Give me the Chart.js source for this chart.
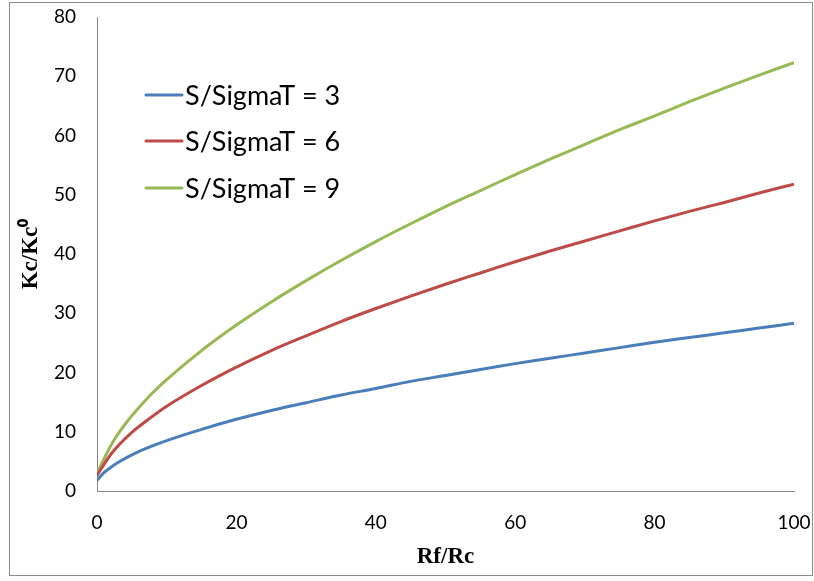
<!DOCTYPE html>
<html>
<head>
<meta charset="utf-8">
<script src="https://cdn.jsdelivr.net/npm/chart.js@4/dist/chart.umd.min.js"></script>
<style>
  html, body { margin: 0; padding: 0; background: #ffffff; }
  #wrap { width: 814px; height: 581px; position: relative; }
</style>
</head>
<body>
<div id="wrap"><canvas id="c" width="814" height="581"></canvas></div>
<script>
// Rf/Rc sample positions
const rfRc = [0, 1, 2, 3, 5, 7.5, 10, 15, 20, 25, 30, 35, 40, 45, 50, 55, 60, 65, 70, 75, 80, 85, 90, 95, 100];

// Kc/Kc0 for each S/SigmaT
const kcS3 = [1.8, 3.1, 4.0, 4.8, 6.1, 7.4, 8.5, 10.4, 12.1, 13.6, 14.9, 16.2, 17.3, 18.5, 19.5, 20.5, 21.5, 22.4, 23.3, 24.2, 25.1, 25.9, 26.7, 27.5, 28.3];
const kcS6 = [2.6, 4.5, 6.2, 7.6, 9.9, 12.2, 14.3, 17.8, 20.9, 23.7, 26.2, 28.6, 30.8, 32.9, 34.9, 36.8, 38.7, 40.5, 42.2, 43.9, 45.6, 47.2, 48.7, 50.3, 51.8];
const kcS9 = [2.9, 5.4, 7.7, 9.6, 12.7, 16.0, 18.8, 23.7, 28.0, 31.9, 35.5, 38.9, 42.1, 45.1, 48.0, 50.7, 53.4, 56.0, 58.5, 61.0, 63.3, 65.7, 68.0, 70.2, 72.3];

const seriesLabels = ['S/SigmaT = 3', 'S/SigmaT = 6', 'S/SigmaT = 9'];
const seriesColors = ['#4A7EBB', '#BE4B48', '#98B954'];

const xTicks = [0, 20, 40, 60, 80, 100];
const yTicks = [0, 10, 20, 30, 40, 50, 60, 70, 80];

const toPoints = ys => rfRc.map((x, i) => ({ x: x, y: ys[i] }));

// legend drawn inside the plot, upper left
const innerLegend = {
  id: 'innerLegend',
  afterDatasetsDraw(chart) {
    const ctx = chart.ctx;
    const rows = [95, 141, 188];
    ctx.save();
    chart.data.datasets.forEach((ds, i) => {
      const y = rows[i];
      ctx.strokeStyle = ds.borderColor;
      ctx.lineWidth = 3;
      ctx.lineCap = 'round';
      ctx.beginPath();
      ctx.moveTo(146, y);
      ctx.lineTo(182, y);
      ctx.stroke();
      ctx.fillStyle = '#000';
      ctx.font = '27px Lato, "Open Sans", sans-serif';
      ctx.textBaseline = 'middle';
      ctx.textAlign = 'left';
      ctx.fillText(ds.label, 185, y + 1);
    });
    ctx.restore();
  }
};

// thin frame around the whole figure
const frame = {
  id: 'frame',
  afterDraw(chart) {
    const ctx = chart.ctx;
    ctx.save();
    ctx.strokeStyle = '#8c8c8c';
    ctx.lineWidth = 1;
    ctx.strokeRect(9.5, 2.5, 803, 573);
    ctx.restore();
  }
};

const noOverflow = s => { s.paddingTop = 0; s.paddingBottom = 0; s.paddingLeft = 0; s.paddingRight = 0; };

new Chart(document.getElementById('c'), {
  type: 'line',
  data: {
    datasets: [kcS3, kcS6, kcS9].map((ys, i) => ({
      label: seriesLabels[i],
      data: toPoints(ys),
      borderColor: seriesColors[i],
      backgroundColor: seriesColors[i],
      borderWidth: 3,
      pointRadius: 0,
      cubicInterpolationMode: 'monotone',
      fill: false
    }))
  },
  options: {
    responsive: false,
    animation: false,
    layout: { padding: { left: 10, top: 17, right: 20, bottom: 0 } },
    plugins: {
      legend: { display: false },
      tooltip: { enabled: false }
    },
    scales: {
      x: {
        type: 'linear',
        min: 0,
        max: 100,
        afterBuildTicks: s => { s.ticks = xTicks.map(v => ({ value: v })); },
        afterFit: s => { s.height = 90; noOverflow(s); },
        grid: { display: false, drawTicks: false },
        border: { display: true, color: '#868686', width: 1 },
        ticks: { color: '#000', padding: 20, font: { family: 'Lato', size: 19 } },
        title: {
          display: true,
          text: 'Rf/Rc',
          color: '#000',
          font: { family: '"Liberation Serif", serif', size: 23, weight: 'bold' },
          padding: { top: 0, bottom: 10 }
        }
      },
      y: {
        min: 0,
        max: 80,
        afterBuildTicks: s => { s.ticks = yTicks.map(v => ({ value: v })); },
        afterFit: s => { s.width = 87; noOverflow(s); },
        grid: { display: false, drawTicks: false },
        border: { display: true, color: '#868686', width: 1 },
        ticks: { color: '#000', padding: 21, font: { family: 'Lato', size: 19 } },
        title: {
          display: true,
          text: 'Kc/Kc\u2070',
          color: '#000',
          font: { family: '"Liberation Serif", serif', size: 23, weight: 'bold' },
          padding: { top: 7, bottom: 0 }
        }
      }
    }
  },
  plugins: [innerLegend, frame]
});
</script>
</body>
</html>
